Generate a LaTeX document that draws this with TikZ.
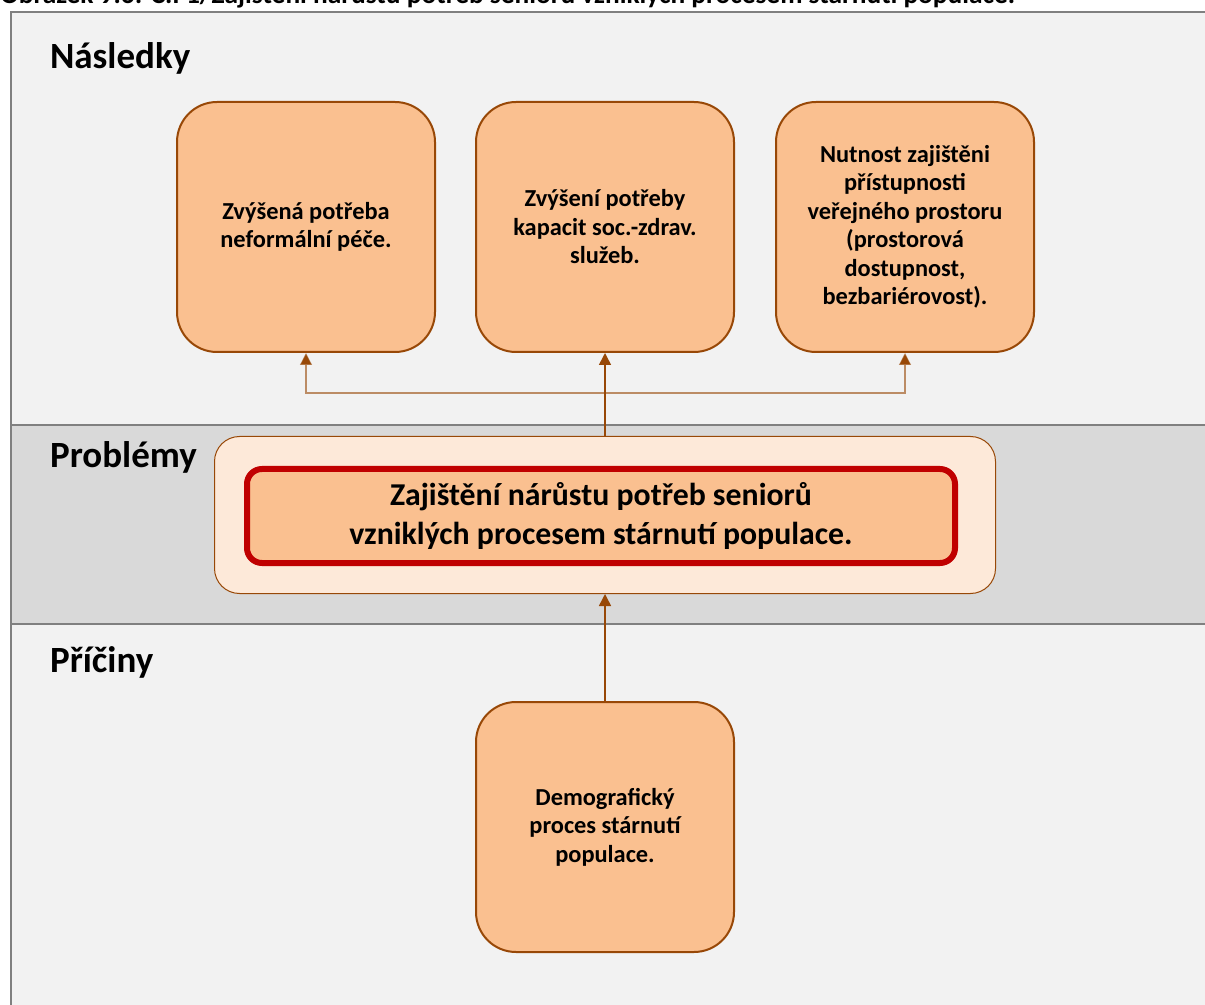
\documentclass[tikz,border=0pt]{standalone}
\usepackage{fontspec}
\setmainfont{Carlito}
\usetikzlibrary{arrows.meta, positioning}

\definecolor{bandlight}{HTML}{F2F2F2}
\definecolor{banddark}{HTML}{D9D9D9}
\definecolor{framegray}{HTML}{808080}
\definecolor{boxfill}{HTML}{FAC090}
\definecolor{boxedge}{HTML}{984807}
\definecolor{probfill}{HTML}{FDE9D9}
\definecolor{probred}{HTML}{C00000}

\begin{document}
\begin{tikzpicture}[
    x=0.5pt, y=-0.5pt,
    band/.style={draw=framegray, line width=1pt},
    heading/.style={anchor=west, font=\fontsize{18.5}{22}\selectfont\bfseries},
    box/.style={
        rectangle, draw=boxedge, line width=1pt, fill=boxfill,
        rounded corners=20pt,
        minimum width=129pt, minimum height=125pt,
        align=center, font=\fontsize{12.2}{14.25}\selectfont\bfseries
    },
    outerbox/.style={
        rectangle, draw=boxedge, line width=0.5pt, fill=probfill,
        rounded corners=12.5pt,
        minimum width=390.5pt, minimum height=78.5pt
    },
    corebox/.style={
        rectangle, draw=probred, line width=3pt, fill=boxfill,
        rounded corners=7.5pt,
        minimum width=354pt, minimum height=47pt,
        align=center, font=\fontsize{15.9}{19.5}\selectfont\bfseries
    },
    link/.style={draw=boxedge, line width=0.75pt},
    sidelink/.style={draw=boxedge, draw opacity=0.6, line width=0.6pt},
    >={Triangle[width=6pt,length=6pt]}
]

\useasboundingbox (0,0) rectangle (1205,1005);

% bands
\path[band, fill=bandlight] (11,12) rectangle (1215,425);
\path[band, fill=banddark] (11,425) rectangle (1215,624);
\path[band, fill=bandlight] (11,624) rectangle (1215,1015);

\node[anchor=base west, inner sep=0pt, font=\fontsize{13.7}{16}\selectfont\bfseries] (caption) at (0,4)
    {Obrázek 9.6: C.I 1/Zajištění nárůstu potřeb seniorů vzniklých procesem stárnutí populace.};

\node[heading] (hnasl) at (43,58) {Následky};
\node[heading] (hprob) at (43,457) {Problémy};
\node[heading] (hpric) at (43,662) {Příčiny};

% consequences
\node[box] (c1) at (306,227) {Zvýšená potřeba\\neformální péče.};
\node[box] (c2) at (605,227) {Zvýšení potřeby\\kapacit soc.-zdrav.\\služeb.};
\node[box] (c3) at (905,227) {Nutnost zajištěni\\přístupnosti\\veřejného prostoru\\(prostorová\\dostupnost,\\bezbariérovost).};

% problem
\node[outerbox] (probout) at (605,515) {};
\node[corebox] (prob) at (601,516) {Zajištění nárůstu potřeb seniorů\\vzniklých procesem stárnutí populace.};

% cause
\node[box] (cause) at (605,827) {Demografický\\proces stárnutí\\populace.};

\coordinate (split) at (605,393);

\draw[link, ->] (probout.north) -- (c2.south);
\draw[sidelink, ->] (split) -| (c1.south);
\draw[sidelink, ->] (split) -| (c3.south);
\draw[link, ->] (cause.north) -- (probout.south);

\end{tikzpicture}
\end{document}
